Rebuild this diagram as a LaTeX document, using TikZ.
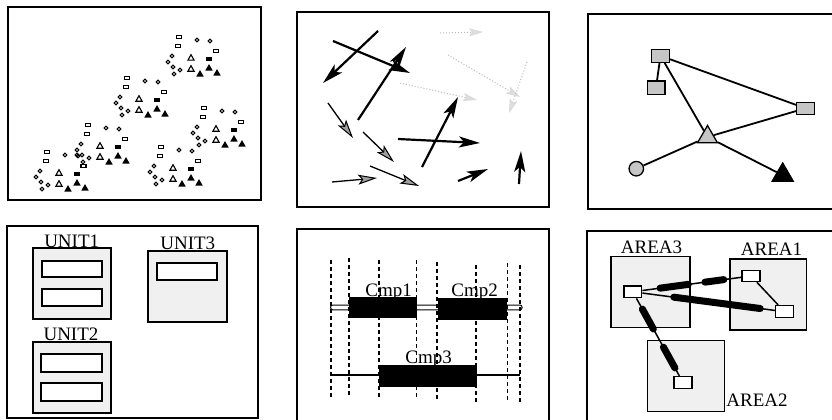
\documentclass[tikz,border=0pt]{standalone}
\usepackage{fontspec}
\setmainfont{Liberation Serif}
\usetikzlibrary{arrows.meta,shapes.geometric,calc}
\begin{document}
\begin{tikzpicture}[x=1pt,y=-1pt,
  frame/.style={line width=1.6pt},
  lbl/.style={font=\fontsize{19}{19}\selectfont, anchor=base, inner sep=0pt},
  psq/.pic={\draw[line width=1.1pt] (-2.6,-1.9) rectangle (2.6,1.9);},
  pci/.pic={\draw[line width=1.1pt] (0,0) circle[radius=1.9];},
  potri/.pic={\draw[line width=1.1pt] (0,-3.3) -- (3.1,2.2) -- (-3.1,2.2) -- cycle;},
  pftri/.pic={\fill (0,-3.9) -- (3.7,2.5) -- (-3.7,2.5) -- cycle;},
  pfrect/.pic={\fill (-2.8,-1.7) rectangle (2.8,1.7);},
  barr/.style={line width=2.2pt,-{Stealth[length=21pt,width=11pt,inset=5pt]}},
  hatr/.style={line width=1.3pt,-{Stealth[length=19pt,width=10pt,inset=4pt,fill=gray!75,color=black,line width=1pt]}},
  ghost/.style={gray!55,dotted,line width=1pt,-{Stealth[length=14pt,width=8pt,inset=3pt,color=gray!30,fill=gray!25]}},
  gshape/.style={draw,line width=1.3pt,fill=gray!45,inner sep=0pt},
  gedge/.style={line width=1.8pt},
  unitbox/.style={draw,line width=1.6pt,fill=gray!12,inner sep=0pt},
  slot/.style={draw,line width=1.8pt,fill=white,inner sep=0pt},
  dline/.style={line width=1.6pt,dash pattern=on 4pt off 3pt},
  blk/.style={fill=black,inner sep=0pt},
  areabox/.style={draw,line width=1.5pt,fill=gray!12,inner sep=0pt},
  smsq/.style={draw,line width=1.5pt,fill=white,inner sep=0pt,minimum width=17.7pt,minimum height=11.7pt},
  thin/.style={line width=1.5pt},
  thick bar/.style={line width=7pt,line cap=round}
]
\useasboundingbox (0,0) rectangle (832,420);
\fill[white] (0,0) rectangle (832,420);

% ---------------- panel 1 : scatter ----------------
\draw[frame] (8,7) rectangle (261,200);
\newcommand\clust[2]{%
  \begin{scope}[shift={(#1,#2)}]
    \foreach \p in {(179,37),(178,46),(216,51)} \pic at \p {psq};
    \foreach \p in {(197,40),(210,41),(172,56),(168,62),(173,67),(180,70),(174,74)} \pic at \p {pci};
    \foreach \p in {(191,58),(191,69)} \pic at \p {potri};
    \pic at (209,59) {pfrect};
    \foreach \p in {(200,74),(209,68),(217,73)} \pic at \p {pftri};
  \end{scope}}
\clust{0}{0}
\clust{-52}{41}
\clust{25}{71}
\clust{-91}{88}
\clust{-18}{110}
\clust{-132}{115}
\pic at (83,166) {psq};
\pic at (77,155) {pci};

% ---------------- panel 2 : arrows ----------------
\draw[frame] (297,12) rectangle (549,207);
\draw[ghost] (440,33) -- (483,32);
\draw[ghost] (448,55) -- (520,97);
\draw[ghost] (527,62) -- (509,113);
\draw[ghost] (400,83) -- (477,100);
\draw[barr] (378,31) -- (323,83);
\draw[barr] (333,41) -- (410,73);
\draw[barr] (358,120) -- (406,47);
\draw[barr] (422,167) -- (458,97);
\draw[barr] (398,139) -- (480,143);
\draw[barr] (458,181) -- (488,169);
\draw[barr] (519,184) -- (521,151);
\draw[hatr] (328,103) -- (353,138);
\draw[hatr] (363,132) -- (394,162);
\draw[hatr] (370,166) -- (419,186);
\draw[hatr] (332,182) -- (377,178);

% ---------------- panel 3 : graph ----------------
\draw[frame] (833,14) -- (588,14) -- (588,209) -- (833,209);
\node[gshape,rectangle,minimum width=17.7pt,minimum height=13pt] (A) at (660.5,55.8) {};
\node[gshape,rectangle,minimum width=17.7pt,minimum height=13.3pt] (B) at (656,87.7) {};
\node[gshape,rectangle,minimum width=17.7pt,minimum height=12pt] (C) at (805.5,108.3) {};
\node[gshape,regular polygon,regular polygon sides=3,minimum size=23pt] (T) at (707.5,137) {};
\node[gshape,circle,minimum size=14.5pt] (D) at (636.3,168.7) {};
\node[draw,fill=black,line width=1pt,inner sep=0pt,regular polygon,regular polygon sides=3,minimum size=25pt] (E) at (782.7,175.2) {};
\draw[gedge] (A) -- (B);
\draw[gedge] (A) -- (C);
\draw[gedge] (A) -- (T);
\draw[gedge] (C) -- (T);
\draw[gedge] (T) -- (D);
\draw[gedge] (T) -- (E);

% ---------------- panel 4 : units ----------------
\draw[frame] (7,226) rectangle (258,418);
\node[unitbox,minimum width=78pt,minimum height=71pt] (U1) at (72,283.5) {};
\node[slot,minimum width=60pt,minimum height=16pt] (U1a) at (72,269) {};
\node[slot,minimum width=60pt,minimum height=17pt] (U1b) at (72,297.5) {};
\node[lbl] (L1) at (71.7,247) {UNIT1};
\node[unitbox,minimum width=79pt,minimum height=71pt] (U3) at (187.5,286.5) {};
\node[slot,minimum width=60pt,minimum height=17pt] (U3a) at (187,271.5) {};
\node[lbl] (L3) at (187.8,249) {UNIT3};
\node[unitbox,minimum width=78pt,minimum height=71pt] (U2) at (72,377.5) {};
\node[slot,minimum width=61pt,minimum height=18pt] (U2a) at (71.5,363) {};
\node[slot,minimum width=61pt,minimum height=18pt] (U2b) at (71.5,392) {};
\node[lbl] (L2) at (71,340.5) {UNIT2};

% ---------------- panel 5 : components ----------------
\draw[frame] (297,423) -- (297,229) -- (549,229) -- (549,423);
\draw[line width=1pt,fill=white,rounded corners=2pt] (330.7,305) rectangle (522,309.8);
\draw[line width=1.2pt] (330.7,375) -- (520,375);
\node[blk,minimum width=68.3pt,minimum height=21pt] (C1) at (382.8,307.8) {};
\node[blk,minimum width=69.6pt,minimum height=21.7pt] (C2) at (472.5,309.2) {};
\node[blk,minimum width=97.7pt,minimum height=21.7pt] (C3) at (427.8,375.8) {};
\foreach \x/\a/\b in {330.7/260/397, 348.7/258/397, 379/260/398, 416.3/260/399, 437/262/400, 476/265/402, 507.3/263/402, 520/265/403}
  \draw[dline] (\x,\a) -- (\x,\b);
\node[lbl] (K1) at (388.7,296) {Cmp1};
\node[lbl] (K2) at (474.7,296.5) {Cmp2};
\node[lbl] (K3) at (428.7,363.5) {Cmp3};

% ---------------- panel 6 : areas ----------------
\draw[frame] (833,231) -- (587,231) -- (587,423);
\node[areabox,minimum width=79pt,minimum height=70.6pt] (A3) at (650.5,292) {};
\node[areabox,minimum width=76.7pt,minimum height=71pt] (A1) at (768.3,294.5) {};
\node[areabox,minimum width=77pt,minimum height=71pt] (A2) at (685.8,376.2) {};
\node[lbl] (N3) at (651.5,253) {AREA3};
\node[lbl] (N1) at (771.5,255.5) {AREA1};
\node[lbl] (N2) at (757,406.5) {AREA2};
\node[smsq] (S3) at (632.8,291.8) {};
\node[smsq,minimum height=11pt] (S1a) at (751,276) {};
\node[smsq,minimum height=12pt] (S1b) at (784.5,311.7) {};
\node[smsq] (S2) at (683,382.5) {};
\draw[thin] (S3) -- (S1a);
\draw[thin] (S3) -- (S1b);
\draw[thin] (S1a) -- (S1b);
\draw[thin] (S3) -- (S2);
\draw[thick bar] ($(S3)!0.23!(S1a)$) -- ($(S3)!0.47!(S1a)$);
\draw[thick bar] ($(S3)!0.61!(S1a)$) -- ($(S3)!0.77!(S1a)$);
\draw[thick bar] ($(S3)!0.27!(S1b)$) -- ($(S3)!0.84!(S1b)$);
\draw[thick bar] ($(S3)!0.19!(S2)$) -- ($(S3)!0.41!(S2)$);
\draw[thick bar] ($(S3)!0.61!(S2)$) -- ($(S3)!0.84!(S2)$);
\end{tikzpicture}
\end{document}
